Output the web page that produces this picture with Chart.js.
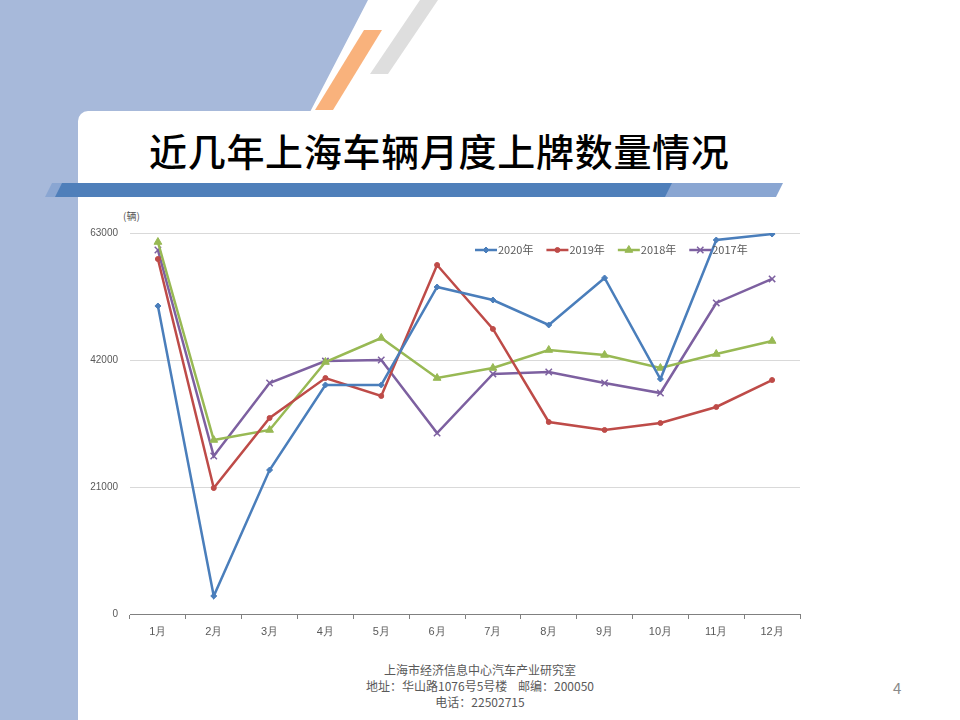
<!DOCTYPE html>
<html><head><meta charset="utf-8">
<script src="https://cdn.jsdelivr.net/npm/chart.js@4/dist/chart.umd.min.js"></script>
<style>
body{margin:0;width:960px;height:720px;position:relative;overflow:hidden;background:#fff;font-family:"Noto Sans CJK SC","Noto Sans",sans-serif}
.abs{position:absolute}
</style></head><body>
<div class="abs" style="left:0;top:0;width:960px;height:720px;background:#A7B9DA;clip-path:polygon(0 0,368px 0,310px 112px,310px 720px,0 720px)"></div>
<div class="abs" style="left:0;top:0;width:960px;height:720px;background:#F9B27C;clip-path:polygon(364px 30px,382px 30px,333px 110px,315px 110px)"></div>
<div class="abs" style="left:0;top:0;width:960px;height:720px;background:#DEDEDE;clip-path:polygon(420px 0,438px 0,388px 74px,370px 74px)"></div>
<div class="abs" style="left:78px;top:111px;width:882px;height:609px;background:#fff;border-top-left-radius:10px"></div>
<div class="abs" style="left:149px;top:124px;font-size:38px;line-height:52px;font-weight:500;letter-spacing:0.7px;color:#000">近几年上海车辆月度上牌数量情况</div>
<div class="abs" style="left:0;top:0;width:960px;height:720px;background:#8AA6D2;clip-path:polygon(52px 183px,783px 183px,776px 197px,45px 197px)"></div>
<div class="abs" style="left:0;top:0;width:960px;height:720px;background:#4F7FBA;clip-path:polygon(62px 183px,672px 183px,665px 197px,55px 197px)"></div>
<div class="abs" style="left:123px;top:208px;font-size:10px;color:#595959">(辆)</div>
<div class="abs" style="left:80px;top:200px;width:730px;height:450px"><canvas id="c" width="730" height="450"></canvas></div>
<div class="abs" style="left:280px;top:662px;width:400px;text-align:center;font-size:12px;color:#595959;line-height:16px">上海市经济信息中心汽车产业研究室<br>地址：华山路1076号5号楼&nbsp;&nbsp;&nbsp;&nbsp;邮编：200050<br>电话：22502715</div>
<div class="abs" style="left:893px;top:677px;font-size:15px;color:#8a8a8a">4</div>
<script>
const categories=['1月','2月','3月','4月','5月','6月','7月','8月','9月','10月','11月','12月'];
const yTicks=[0,21000,42000,63000];
const s2020=[50930,2980,23810,37870,37870,54070,51920,47790,55560,38860,61840,62830];
const s2019=[58700,20830,32410,39020,36050,57710,47130,31750,30430,31580,34230,38690];
const s2018=[61510,28770,30430,41670,45640,39020,40680,43650,42830,40680,42990,45140];
const s2017=[60190,26130,38200,41830,42000,29930,39690,40020,38200,36540,51430,55400];
const mk=(label,data,color,ps,r)=>({label,data,borderColor:color,backgroundColor:color,borderWidth:2.5,pointStyle:ps,pointRadius:r,pointBorderWidth:ps==='crossRot'?1.5:1,tension:0});
const legendPlugin={id:'lg',afterDraw(ch){const c=ch.ctx;const a=ch.chartArea;let x=a.left+345;const y=a.top+17;c.save();c.font='11px "Noto Sans CJK SC"';c.textBaseline='middle';
ch.data.datasets.forEach(d=>{c.strokeStyle=d.borderColor;c.fillStyle=d.borderColor;c.lineWidth=2.5;c.beginPath();c.moveTo(x,y);c.lineTo(x+22,y);c.stroke();
c.lineWidth=d.pointBorderWidth;Chart.helpers.drawPoint(c,{pointStyle:d.pointStyle,radius:d.pointRadius,borderWidth:d.pointBorderWidth},x+11,y);c.fillStyle='#595959';c.fillText(d.label,x+23,y);x+=c.measureText(d.label).width+36;});c.restore();}};
new Chart(document.getElementById('c'),{type:'line',
data:{labels:categories,datasets:[mk('2020年',s2020,'#4A7EBB','rectRot',3),mk('2019年',s2019,'#BE4B48','circle',2.5),mk('2018年',s2018,'#98B954','triangle',4.5),mk('2017年',s2017,'#7D60A0','crossRot',4.5)]},
options:{responsive:false,animation:false,devicePixelRatio:1,layout:{padding:{top:33,right:10}},
plugins:{legend:{display:false},tooltip:{enabled:false}},
scales:{x:{offset:true,afterFit(s){s.height=36},grid:{offset:true,drawOnChartArea:false,tickLength:5,color:'#808080'},border:{color:'#808080'},ticks:{color:'#595959',font:{size:11},padding:6,maxRotation:0,autoSkip:false}},
y:{min:0,max:63000,afterFit(s){s.width=50},afterBuildTicks(s){s.ticks=yTicks.map(v=>({value:v}))},grid:{color:'#d9d9d9',drawTicks:false},border:{display:false},ticks:{color:'#595959',font:{size:10},padding:12,callback:v=>String(v)}}}},
plugins:[legendPlugin]});
</script></body></html>
